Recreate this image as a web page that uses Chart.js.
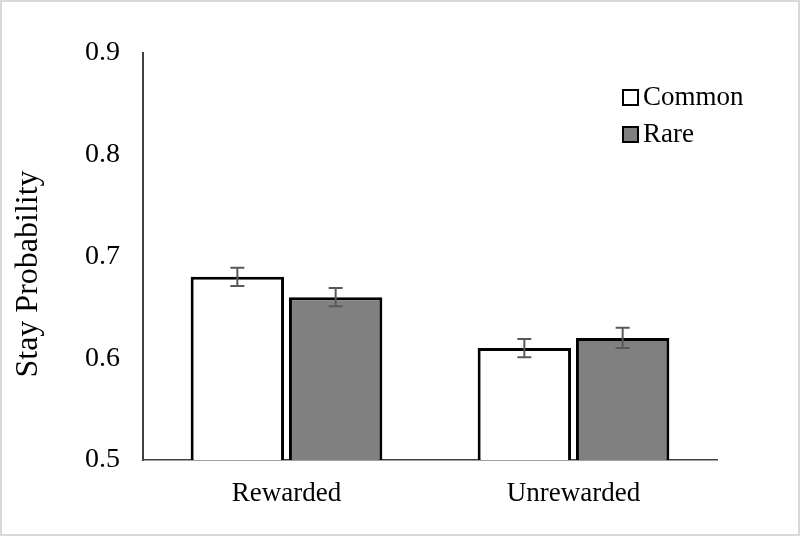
<!DOCTYPE html>
<html>
<head>
<meta charset="utf-8">
<script src="https://cdn.jsdelivr.net/npm/chart.js@4"></script>
<style>
  html, body { margin: 0; padding: 0; background: #fff; }
  #wrap { position: relative; width: 800px; height: 536px; }
  #frame { position: absolute; left: 0; top: 0; right: 0; bottom: 0; border: 2px solid #d9d9d9; pointer-events: none; }
</style>
</head>
<body>
<div id="wrap">
  <canvas id="chart" width="800" height="536"></canvas>
  <div id="frame"></div>
</div>
<script>
// chart data
const categories = ['Rewarded', 'Unrewarded'];
const seriesNames = ['Common', 'Rare'];
const commonValues = [0.68, 0.61];
const rareValues = [0.66, 0.62];
const commonErrors = [0.009, 0.009];
const rareErrors = [0.009, 0.010];
const yTicks = [0.5, 0.6, 0.7, 0.8, 0.9];
const yTitle = 'Stay Probability';

const serif = '"Liberation Serif", "Times New Roman", serif';

// draws the little error bars on top of each bar
const errorBars = {
    id: 'errorBars',
    afterDatasetsDraw(chart) {
        const ctx = chart.ctx;
        const y = chart.scales.y;
        ctx.save();
        ctx.strokeStyle = '#595959';
        ctx.lineWidth = 2;
        chart.data.datasets.forEach((ds, di) => {
            const meta = chart.getDatasetMeta(di);
            meta.data.forEach((bar, i) => {
                const v = ds.data[i];
                const e = ds.errors[i];
                const top = y.getPixelForValue(v + e);
                const bot = y.getPixelForValue(v - e);
                const x = bar.x;
                ctx.beginPath();
                ctx.moveTo(x, top);
                ctx.lineTo(x, bot);
                ctx.moveTo(x - 7, top);
                ctx.lineTo(x + 7, top);
                ctx.moveTo(x - 7, bot);
                ctx.lineTo(x + 7, bot);
                ctx.stroke();
            });
        });
        ctx.restore();
    }
};

// legend in the top right corner + the rotated y title (sits a bit low in the original)
const extras = {
    id: 'extras',
    afterDraw(chart) {
        const ctx = chart.ctx;
        ctx.save();
        ctx.font = '27px ' + serif;
        ctx.textBaseline = 'middle';
        chart.data.datasets.forEach((ds, i) => {
            const cy = 97 + i * 37;
            ctx.fillStyle = ds.backgroundColor;
            ctx.fillRect(623, cy - 7, 15, 15);
            ctx.strokeStyle = '#000';
            ctx.lineWidth = 2;
            ctx.strokeRect(623, cy - 7, 15, 15);
            ctx.fillStyle = '#000';
            ctx.fillText(ds.label, 643, cy + 1);
        });

        ctx.translate(29, 274);
        ctx.rotate(-Math.PI / 2);
        ctx.font = '32px ' + serif;
        ctx.textAlign = 'center';
        ctx.textBaseline = 'middle';
        ctx.fillStyle = '#000';
        ctx.fillText(yTitle, 0, 0);
        ctx.restore();
    }
};

new Chart(document.getElementById('chart'), {
    type: 'bar',
    data: {
        labels: categories,
        datasets: [
            {
                label: seriesNames[0],
                data: commonValues,
                errors: commonErrors,
                backgroundColor: '#ffffff',
                borderColor: '#000000',
                borderWidth: 3,
                borderSkipped: false,
                categoryPercentage: 0.685,
                barPercentage: 0.95
            },
            {
                label: seriesNames[1],
                data: rareValues,
                errors: rareErrors,
                backgroundColor: '#808080',
                borderColor: '#000000',
                borderWidth: 3,
                borderSkipped: false,
                categoryPercentage: 0.685,
                barPercentage: 0.95
            }
        ]
    },
    options: {
        responsive: false,
        animation: false,
        layout: { padding: { top: 53, right: 83, left: 0, bottom: 0 } },
        plugins: {
            legend: { display: false },
            tooltip: { enabled: false }
        },
        scales: {
            x: {
                grid: { display: false, drawTicks: false },
                border: { display: true, color: '#404040', width: 1.5 },
                ticks: {
                    color: '#000',
                    padding: 18,
                    font: { family: serif, size: 27 }
                },
                afterFit(scale) { scale.height = 76; }
            },
            y: {
                min: yTicks[0],
                max: yTicks[yTicks.length - 1],
                grid: { display: false, drawTicks: false },
                border: { display: true, color: '#404040', width: 2 },
                afterBuildTicks(scale) { scale.ticks = yTicks.map(v => ({ value: v })); },
                ticks: {
                    color: '#000',
                    padding: 23,
                    font: { family: serif, size: 28 },
                    callback: v => Number(v).toFixed(1)
                },
                afterFit(scale) { scale.width = 143; }
            }
        }
    },
    plugins: [errorBars, extras]
});
</script>
</body>
</html>
